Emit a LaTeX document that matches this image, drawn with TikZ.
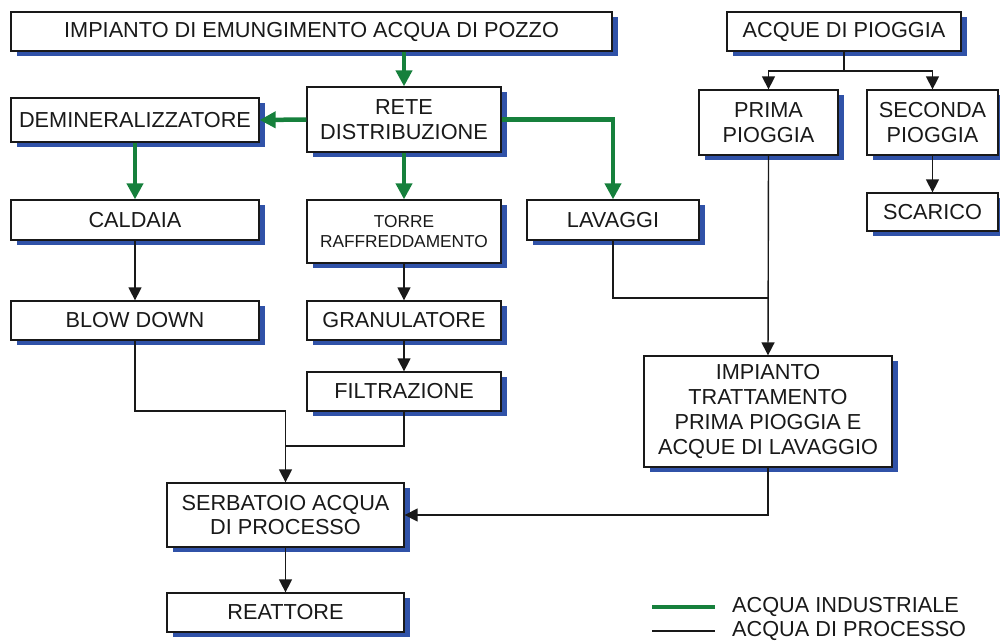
\documentclass[tikz,border=0pt]{standalone}
\usepackage{fontspec}
\setmainfont{Liberation Sans}
\usetikzlibrary{arrows.meta,shadows}
\definecolor{shadowblue}{RGB}{48,82,168}
\definecolor{pipegreen}{RGB}{22,128,60}
\definecolor{inkgray}{RGB}{25,25,25}
\tikzset{
  box/.style={draw=inkgray, line width=1.3pt, fill=white, inner sep=0pt,
    align=center, text=inkgray,
    font=\fontsize{21.7}{24.5}\selectfont,
    copy shadow={shadow xshift=5.5pt, shadow yshift=-5pt, draw=none, fill=shadowblue}},
  industrial/.style={draw=pipegreen, line width=4.5pt,
    -{Triangle[width=16pt,length=16pt]}},
  process/.style={draw=inkgray, line width=1.4pt,
    -{Triangle[width=13pt,length=13pt]}},
  processline/.style={draw=inkgray, line width=1.4pt},
  legendtext/.style={anchor=west, inner sep=0pt, text=inkgray,
    font=\fontsize{21.7}{24}\selectfont}
}
\begin{document}
\begin{tikzpicture}[x=1pt,y=-1pt]
\useasboundingbox (0,0) rectangle (1000,641);

% well water supply and distribution
\node[box, minimum width=601pt, minimum height=39pt] (emu) at (311.5,31.5) {IMPIANTO DI EMUNGIMENTO ACQUA DI POZZO};
\node[box, minimum width=248pt, minimum height=44pt] (demin) at (135,120) {DEMINERALIZZATORE};
\node[box, minimum width=194pt, minimum height=65pt] (rete) at (404,119.5) {RETE\\DISTRIBUZIONE};
\node[box, minimum width=248pt, minimum height=40pt] (caldaia) at (135,220) {CALDAIA};
\node[box, minimum width=194pt, minimum height=63pt, font=\fontsize{17.3}{20}\selectfont] (torre) at (404,231.5) {TORRE\\RAFFREDDAMENTO};
\node[box, minimum width=172pt, minimum height=40pt] (lavaggi) at (613,220) {LAVAGGI};
\node[box, minimum width=248pt, minimum height=39pt] (blow) at (135,320.5) {BLOW DOWN};
\node[box, minimum width=194pt, minimum height=39pt] (gran) at (404,320.5) {GRANULATORE};
\node[box, minimum width=194pt, minimum height=39pt] (filt) at (404,391.5) {FILTRAZIONE};
\node[box, minimum width=237pt, minimum height=64pt] (serb) at (285.5,515) {SERBATOIO ACQUA\\DI PROCESSO};
\node[box, minimum width=237pt, minimum height=39pt] (reat) at (285.5,612.5) {REATTORE};

% rain water branch
\node[box, minimum width=234pt, minimum height=39pt] (acque) at (844,31.5) {ACQUE DI PIOGGIA};
\node[box, minimum width=139pt, minimum height=65pt] (prima) at (768.5,122.5) {PRIMA\\PIOGGIA};
\node[box, minimum width=131pt, minimum height=65pt] (seconda) at (932.5,122.5) {SECONDA\\PIOGGIA};
\node[box, minimum width=131pt, minimum height=38pt] (scarico) at (932.5,212) {SCARICO};
\node[box, minimum width=248pt, minimum height=111pt, font=\fontsize{21.7}{25}\selectfont] (imp) at (768,411.5) {IMPIANTO\\TRATTAMENTO\\PRIMA PIOGGIA E\\ACQUE DI LAVAGGIO};

% junction points
\coordinate (rj) at (844,71);
\coordinate (bj) at (285.5,411);
\coordinate (fj) at (285.5,446);
\coordinate (lj) at (768.5,298);

% industrial water
\draw[industrial] (rete.north |- emu.south) -- (rete.north);
\draw[industrial] (rete.west) -- (demin.east);
\draw[industrial] (demin.south) -- (caldaia.north);
\draw[industrial] (rete.south) -- (torre.north);
\draw[industrial] (rete.east) -| (lavaggi.north);

% process water
\draw[process] (caldaia.south) -- (blow.north);
\draw[process] (torre.south) -- (gran.north);
\draw[process] (gran.south) -- (filt.north);
\draw[process] (blow.south) |- (bj) -- (serb.north);
\draw[processline] (filt.south) |- (fj);
\draw[process] (serb.south) -- (reat.north);
\draw[processline] (acque.south) -- (rj);
\draw[process] (rj) -| (prima.north);
\draw[process] (rj) -| (seconda.north);
\draw[process] (seconda.south) -- (scarico.north);
\draw[process] (prima.south) -- (imp.north);
\draw[processline] (lavaggi.south) |- (lj);
\draw[process] (imp.south) |- (serb.east);

% legend
\coordinate (lg1a) at (652,607);
\coordinate (lg1b) at (715,607);
\coordinate (lg2a) at (652,631);
\coordinate (lg2b) at (715,631);
\draw[draw=pipegreen, line width=4.5pt] (lg1a) -- (lg1b);
\draw[processline] (lg2a) -- (lg2b);
\node[legendtext] (lgt1) at (732,607) {ACQUA INDUSTRIALE};
\node[legendtext] (lgt2) at (732,630.5) {ACQUA DI PROCESSO};
\end{tikzpicture}
\end{document}
